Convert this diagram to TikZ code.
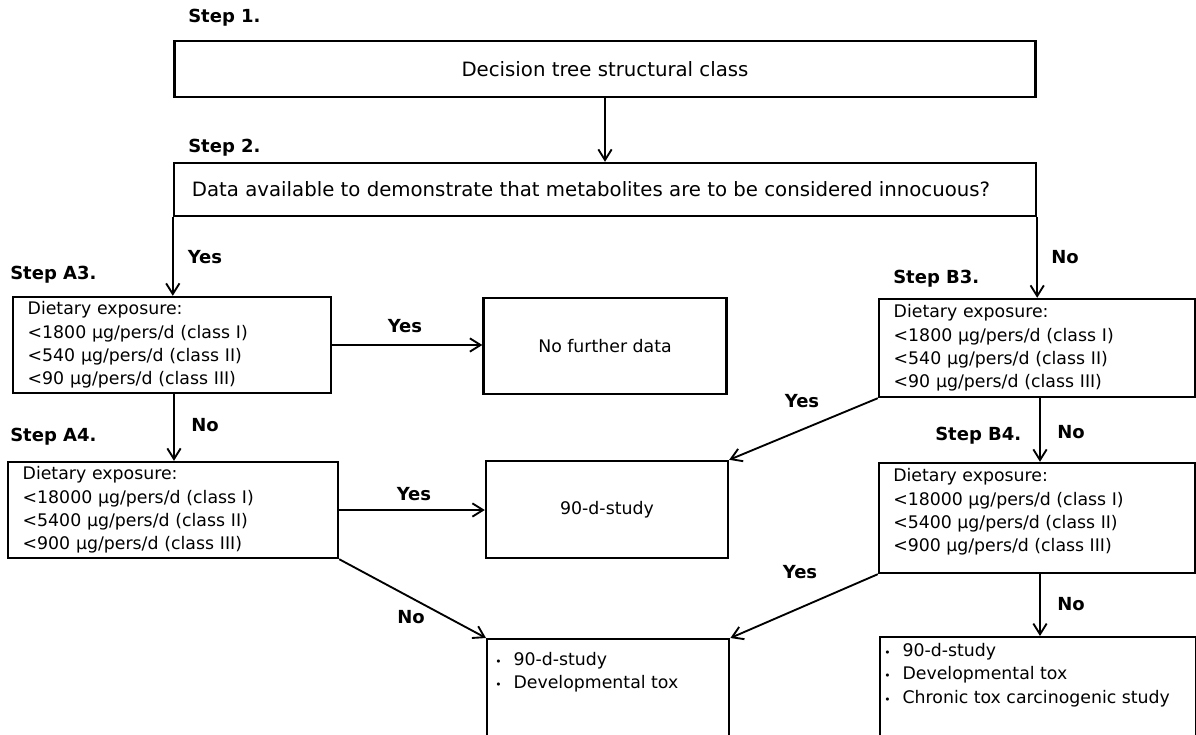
\documentclass[tikz,border=0pt]{standalone}
\usepackage{fontspec}
\setmainfont{DejaVu Sans}
\usetikzlibrary{arrows.meta}
\newcommand{\smbul}{{\fontsize{8}{8}\selectfont\textbullet}}
\begin{document}
\begin{tikzpicture}[x=0.75pt,y=-0.75pt,
  box/.style={draw,line width=1.8pt,inner sep=0pt,font=\fontsize{13}{17.6}\selectfont},
  bigbox/.style={box,font=\fontsize{14.8}{17.6}\selectfont},
  lbox/.style={box,align=left,inner xsep=11pt,text width=#1},
  listtext/.style={inner sep=0pt,font=\fontsize{13}{17.6}\selectfont,align=left},
  lbl/.style={font=\bfseries\fontsize{13.5}{15}\selectfont,inner sep=0pt},
  steplbl/.style={lbl,anchor=west},
  arr/.style={line width=1.4pt,-{Straight Barb[length=8pt,width=10pt,line width=1.4pt]}}]
\clip (0,0) rectangle (1196,735);
\useasboundingbox (0,0) rectangle (1196,735);

% step labels
\node[steplbl] (s1) at (188,18) {Step 1.};
\node[steplbl] (s2) at (188,148) {Step 2.};
\node[steplbl] (sa3) at (10,275) {Step A3.};
\node[steplbl] (sa4) at (10,437) {Step A4.};
\node[steplbl] (sb3) at (893,279) {Step B3.};
\node[steplbl] (sb4) at (935,436) {Step B4.};

% boxes
\node[bigbox,minimum width=861*0.75pt,minimum height=56*0.75pt] (box1) at (605,69) {Decision tree structural class};
\node[bigbox,minimum width=862*0.75pt,minimum height=53*0.75pt] (box2) at (605,189.5) {Data available to demonstrate that metabolites are to be considered innocuous?\rule{21pt}{0pt}};

\node[lbox=216.5pt,minimum width=318*0.75pt,minimum height=96*0.75pt] (a3) at (172,345)
  {Dietary exposure:\\<1800 µg/pers/d (class I)\\<540 µg/pers/d (class II)\\<90 µg/pers/d (class III)};
\node[box,minimum width=243*0.75pt,minimum height=96*0.75pt] (nfd) at (605,346) {No further data};

\node[lbox=225.5pt,minimum width=330*0.75pt,minimum height=96*0.75pt] (a4) at (173,510)
  {Dietary exposure:\\<18000 µg/pers/d (class I)\\<5400 µg/pers/d (class II)\\<900 µg/pers/d (class III)};
\node[box,minimum width=242*0.75pt,minimum height=97*0.75pt] (s90) at (607,509.5) {90-d-study};

\node[lbox=215pt,minimum width=316*0.75pt,minimum height=98*0.75pt] (b3) at (1037,348)
  {Dietary exposure:\\<1800 µg/pers/d (class I)\\<540 µg/pers/d (class II)\\<90 µg/pers/d (class III)};
\node[box,minimum width=316*0.75pt,minimum height=110*0.75pt] (b4) at (1037,518) {};
\node[listtext,anchor=west] (b4t) at (893,512)
  {Dietary exposure:\\<18000 µg/pers/d (class I)\\<5400 µg/pers/d (class II)\\<900 µg/pers/d (class III)};

\node[box,minimum width=242*0.75pt,minimum height=110*0.75pt,anchor=north west] (bm) at (486,638) {};
\node[box,minimum width=316*0.75pt,minimum height=110*0.75pt,anchor=north west] (br) at (879,636) {};

\node[listtext,anchor=west] (bmt) at (495,672)
  {\smbul\hspace{9pt}90-d-study\\\smbul\hspace{9pt}Developmental tox};
\node[listtext,anchor=west] (brt) at (884,675)
  {\smbul\hspace{9pt}90-d-study\\\smbul\hspace{9pt}Developmental tox\\\smbul\hspace{9pt}Chronic tox carcinogenic study};

% connectors
\draw[arr] (box1.south) -- (box2.north);
\draw[arr] (box2.south west) -- (box2.south west |- a3.north);
\draw[arr] (box2.south east) -- (box2.south east |- b3.north);
\draw[arr] (a3.east) -- (a3.east -| nfd.west);
\draw[arr] ([xshift=2*0.75pt]a3.south) -- ([xshift=2*0.75pt]a3.south |- a4.north);
\draw[arr] (a4.east) -- (a4.east -| s90.west);
\draw[arr] (a4.south east) -- (bm.north west);
\draw[arr] (b3.south west) -- (s90.north east);
\draw[arr] ([xshift=3*0.75pt]b3.south) -- ([xshift=3*0.75pt]b3.south |- b4.north);
\draw[arr] (b4.south west) -- (bm.north east);
\draw[arr] ([xshift=3*0.75pt]b4.south) -- ([xshift=3*0.75pt]b4.south |- br.north);

% edge labels
\node[lbl] (y1) at (205,257) {Yes};
\node[lbl] (n1) at (1065,257) {No};
\node[lbl] (y2) at (405,326) {Yes};
\node[lbl] (n2) at (205,425) {No};
\node[lbl] (y3) at (414,494) {Yes};
\node[lbl] (n3) at (411,617) {No};
\node[lbl] (y4) at (802,401) {Yes};
\node[lbl] (y5) at (800,572) {Yes};
\node[lbl] (n4) at (1071,432) {No};
\node[lbl] (n5) at (1071,604) {No};
\end{tikzpicture}
\end{document}
